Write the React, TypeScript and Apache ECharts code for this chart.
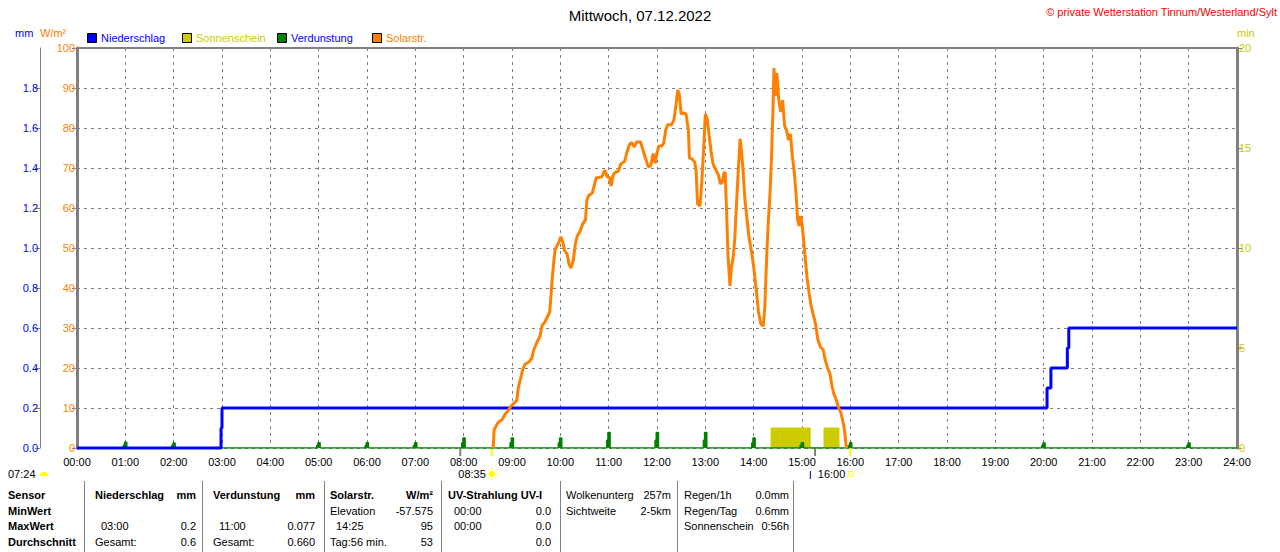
import React, { useEffect, useRef } from 'react';
import * as echarts from 'echarts';

const FONT = '"Liberation Sans", Arial, sans-serif';

const titleText = 'Mittwoch, 07.12.2022';
const copyrightText = '\u00a9 private Wetterstation Tinnum/Westerland/Sylt';

const hourLabels = [
  '00:00', '01:00', '02:00', '03:00', '04:00', '05:00', '06:00', '07:00', '08:00',
  '09:00', '10:00', '11:00', '12:00', '13:00', '14:00', '15:00', '16:00', '17:00',
  '18:00', '19:00', '20:00', '21:00', '22:00', '23:00', '24:00',
];

// Solar radiation (W/m²): [hour, value]
const solarReadings: [number, number][] = [
  [8.61, 0], [8.63, 4.5], [8.67, 5.5], [8.72, 6.5], [8.79, 7], [8.86, 8.5], [8.92, 9.3],
  [8.98, 10.5], [9.05, 11.3], [9.1, 12], [9.13, 15], [9.17, 17], [9.22, 19.5], [9.27, 21],
  [9.35, 21.5], [9.41, 22.5], [9.45, 24.5], [9.52, 26.5], [9.58, 28], [9.62, 30.5],
  [9.68, 31.5], [9.72, 32.5], [9.78, 34], [9.8, 37], [9.83, 42], [9.86, 46], [9.89, 49.5],
  [9.93, 50.5], [9.97, 51.5], [10.01, 52.8], [10.05, 51.5], [10.09, 49.3], [10.14, 48.5],
  [10.18, 46], [10.22, 45], [10.27, 47], [10.31, 51], [10.35, 53], [10.41, 54.2],
  [10.46, 56], [10.52, 57], [10.55, 62], [10.59, 63.2], [10.66, 63.7], [10.7, 65.5],
  [10.74, 67.5], [10.79, 67.6], [10.86, 67.8], [10.92, 69.5], [10.97, 67.8], [11.02, 67.6],
  [11.05, 65.5], [11.09, 68], [11.12, 68.8], [11.2, 69.2], [11.25, 71], [11.33, 71.6],
  [11.38, 74], [11.43, 75.8], [11.47, 76.4], [11.53, 75.3], [11.58, 76.5], [11.66, 76.5],
  [11.71, 74.5], [11.76, 72.5], [11.82, 70.3], [11.87, 70.6], [11.92, 73.6], [11.96, 71.2],
  [12.0, 73.8], [12.04, 75.5], [12.1, 75.5], [12.14, 76.3], [12.18, 79.5], [12.22, 80.8],
  [12.3, 80.8], [12.35, 82], [12.39, 85.5], [12.43, 89.5], [12.46, 88.5], [12.5, 83.5],
  [12.55, 83.8], [12.6, 83.5], [12.65, 79.5], [12.67, 72.5], [12.72, 72.3], [12.78, 71.5],
  [12.81, 69], [12.84, 61], [12.89, 60.5], [12.93, 67], [12.97, 76], [13.0, 83.5],
  [13.04, 82.2], [13.08, 78], [13.12, 74], [13.16, 71], [13.23, 69.2], [13.27, 68.3],
  [13.31, 66], [13.35, 66.5], [13.38, 68.5], [13.41, 69], [13.44, 59], [13.47, 48],
  [13.51, 40.5], [13.54, 45], [13.58, 48], [13.61, 52.5], [13.64, 60], [13.68, 69],
  [13.72, 77.3], [13.75, 74], [13.78, 69.5], [13.82, 62], [13.86, 57.5], [13.9, 53],
  [13.95, 49.5], [14.0, 45.3], [14.05, 40], [14.1, 34], [14.15, 31], [14.2, 30.5],
  [14.23, 35], [14.27, 48], [14.3, 56], [14.34, 64], [14.37, 73], [14.4, 85], [14.42, 95],
  [14.45, 88], [14.48, 93.7], [14.52, 87], [14.56, 84], [14.6, 87], [14.64, 80.5],
  [14.68, 79.5], [14.72, 77], [14.76, 78.5], [14.8, 73], [14.84, 69], [14.88, 63],
  [14.91, 57], [14.94, 55.5], [14.97, 58], [15.01, 55], [15.04, 51], [15.07, 47],
  [15.11, 42], [15.15, 38.5], [15.19, 35.5], [15.24, 33], [15.28, 31], [15.33, 27],
  [15.38, 25.3], [15.44, 24.5], [15.48, 22], [15.53, 20], [15.58, 18.5], [15.62, 15.5],
  [15.66, 13.5], [15.71, 12], [15.75, 10.3], [15.8, 9], [15.84, 7], [15.88, 4.5],
  [15.91, 1], [15.92, 0],
];

// Precipitation, cumulative (mm)
const rainTimes = [0, 2.98, 3.0, 20.07, 20.15, 20.49, 20.52, 24];
const rainValues = [0, 0.1, 0.2, 0.3, 0.4, 0.5, 0.6, 0.6];

// Evaporation (mm) per hour
const evapHours = [1, 2, 5, 6, 7, 8, 9, 10, 11, 12, 13, 14, 15, 16, 20, 23];
const evapValues = [0.029, 0.025, 0.026, 0.026, 0.026, 0.05, 0.05, 0.05, 0.077, 0.077, 0.077, 0.05, 0.026, 0.026, 0.025, 0.025];

// Sunshine periods (min)
const sunStarts = [14.36, 15.455];
const sunEnds = [15.17, 15.765];
const sunMinutes = [1, 1];

// Sun events
const dawnLabel = '07:24';
const sunriseTime = 8.583;
const sunriseLabel = '08:35';
const sunsetTime = 16.0;
const sunsetLabel = '16:00';
const grayMarkTimes = [7.93, 15.27];

const legendItems = [
  { name: 'Niederschlag', box: '#0000ff', text: '#0000ff' },
  { name: 'Sonnenschein', box: '#cccc00', text: '#cccc00' },
  { name: 'Verdunstung', box: '#008000', text: '#0000ff' },
  { name: 'Solarstr.', box: '#ff8000', text: '#ff8000' },
];

const sensorLabels = ['Sensor', 'MinWert', 'MaxWert', 'Durchschnitt'];
const tableColumns: [string, string][][] = [
  [['Niederschlag', 'mm'], ['', ''], [' 03:00', '0.2'], ['Gesamt:', '0.6']],
  [['Verdunstung', 'mm'], ['', ''], [' 11:00', '0.077'], ['Gesamt:', '0.660']],
  [['Solarstr.', 'W/m\u00b2'], ['Elevation', '-57.575'], [' 14:25', '95'], ['Tag:56 min.', '53']],
  [['UV-Strahlung UV-I', ''], [' 00:00', '0.0'], [' 00:00', '0.0'], ['', '0.0']],
  [['Wolkenunterg', '257m'], ['Sichtweite', '2-5km'], ['', ''], ['', '']],
  [['Regen/1h', '0.0mm'], ['Regen/Tag', '0.6mm'], ['Sonnenschein', '0:56h'], ['', '']],
];
const boldHeaderCols = [true, true, true, true, false, false];

export default function App() {
  const ref = useRef<HTMLDivElement>(null);

  useEffect(() => {
    if (!ref.current) return;
    const chart = echarts.init(ref.current, null, { renderer: 'svg' });

    const rainData = rainTimes.map((t, i) => [t, rainValues[i]]);
    const evapData: number[][] = [[0, 0]];
    evapHours.forEach((h, i) => {
      const v = evapValues[i];
      evapData.push([h - 0.04, 0], [h - 0.04, v * 0.5], [h - 0.015, v * 0.5], [h - 0.015, v], [h + 0.03, v], [h + 0.03, 0]);
    });
    evapData.push([24, 0]);
    const sunData: number[][] = [];
    sunStarts.forEach((s, i) => {
      sunData.push([s, 0], [s, sunMinutes[i]], [sunEnds[i], sunMinutes[i]], [sunEnds[i], 0]);
    });

    const gridDash = { color: '#808080', width: 1, type: [3, 4] as number[] };

    chart.setOption({
      animation: false,
      textStyle: { fontFamily: FONT },
      title: {
        text: titleText,
        left: 'center',
        top: 3,
        textStyle: { fontSize: 15, fontWeight: 'normal', color: '#000', fontFamily: FONT },
      },
      grid: { left: 77, right: 43, top: 48, bottom: 104, show: false },
      xAxis: [
        {
          type: 'value', min: 0, max: 24, interval: 1,
          axisLine: { show: false },
          axisTick: { show: false },
          axisLabel: {
            formatter: (v: number) => hourLabels[Math.round(v)],
            color: '#000', fontSize: 11, margin: 8, fontFamily: FONT,
          },
          splitLine: { show: true, lineStyle: gridDash },
        },
        {
          type: 'value', min: 0, max: 24, interval: 1, position: 'top',
          axisLine: { show: true, onZero: false, lineStyle: { color: '#808080', width: 2 } },
          axisTick: { show: false },
          axisLabel: { show: false },
          splitLine: { show: false },
        },
      ],
      yAxis: [
        {
          type: 'value', min: 0, max: 100, interval: 10, position: 'left',
          axisLine: { show: true, onZero: false, lineStyle: { color: '#808080', width: 3 } },
          axisTick: { show: true, length: 5, lineStyle: { color: '#808080' } },
          axisLabel: { color: '#ff8000', fontSize: 11, margin: 2, fontFamily: FONT },
          splitLine: { show: true, lineStyle: gridDash },
        },
        {
          type: 'value', min: 0, max: 2, interval: 0.2, position: 'left', offset: 37,
          axisLine: { show: true, onZero: false, lineStyle: { color: '#808080', width: 1 } },
          axisTick: { show: true, length: 5, lineStyle: { color: '#808080' } },
          axisLabel: {
            color: '#0000ff', fontSize: 11, margin: 2, showMaxLabel: false, fontFamily: FONT,
            formatter: (v: number) => v.toFixed(1),
          },
          splitLine: { show: false },
        },
        {
          type: 'value', min: 0, max: 20, interval: 5, position: 'right',
          axisLine: { show: true, onZero: false, lineStyle: { color: '#808080', width: 3 } },
          axisTick: { show: true, length: 5, lineStyle: { color: '#808080' } },
          axisLabel: { color: '#cccc00', fontSize: 11, margin: 2, fontFamily: FONT },
          splitLine: { show: false },
        },
      ],
      series: [
        {
          name: 'Sonnenschein', type: 'line', xAxisIndex: 0, yAxisIndex: 2, data: sunData,
          showSymbol: false, z: 1,
          lineStyle: { color: '#cccc00', width: 1 },
          areaStyle: { color: '#cccc00', opacity: 1 },
        },
        {
          name: 'Verdunstung', type: 'line', xAxisIndex: 0, yAxisIndex: 1, data: evapData,
          showSymbol: false, z: 2,
          lineStyle: { color: '#008000', width: 1.5 },
          areaStyle: { color: '#008000', opacity: 1 },
        },
        {
          name: 'Niederschlag', type: 'line', xAxisIndex: 0, yAxisIndex: 1, data: rainData,
          step: 'end', showSymbol: false, z: 3, clip: false,
          lineStyle: { color: '#0000ff', width: 3 },
        },
        {
          name: 'Solarstr.', type: 'line', xAxisIndex: 0, yAxisIndex: 0, data: solarReadings,
          showSymbol: false, z: 4,
          lineStyle: { color: '#ff8000', width: 3 },
        },
      ],
    });

    const px = (t: number) => chart.convertToPixel({ xAxisIndex: 0 }, t) as number;
    const baseY = chart.convertToPixel({ yAxisIndex: 0 }, 0) as number;

    const txt = (x: number, y: number, text: string, fill: string, font: string, align = 'left') => ({
      type: 'text', x, y, silent: true,
      style: { text, fill, font, align, textAlign: align, verticalAlign: 'middle', textVerticalAlign: 'middle' },
    });
    const f11 = `11px ${FONT}`;
    const b11 = `bold 11px ${FONT}`;

    const g: any[] = [];
    // copyright
    g.push(txt(1277, 12, copyrightText, '#ff0000', f11, 'right'));
    // axis names
    g.push(txt(15, 33, 'mm', '#0000ff', f11));
    g.push(txt(40, 33, 'W/m\u00b2', '#ff8000', f11));
    g.push(txt(1237, 33, 'min', '#cccc00', f11));
    // legend
    legendItems.forEach((it, i) => {
      const x0 = 87 + 95 * i;
      g.push({ type: 'rect', shape: { x: x0 + 0.5, y: 33.5, width: 9, height: 9 }, style: { fill: it.box, stroke: '#000', lineWidth: 1 } });
      g.push(txt(x0 + 14, 38, it.name, it.text, f11));
    });
    // sun events
    g.push(txt(8, 474, dawnLabel, '#000', f11));
    g.push({ type: 'sector', shape: { cx: 44, cy: 476, r: 4, r0: 0, startAngle: Math.PI, endAngle: Math.PI * 2 }, style: { fill: '#ffff00' } });
    grayMarkTimes.forEach((t) => {
      g.push({ type: 'line', shape: { x1: px(t), y1: baseY, x2: px(t), y2: baseY + 8 }, style: { stroke: '#808080', lineWidth: 2 } });
    });
    [sunriseTime, sunsetTime].forEach((t) => {
      g.push({ type: 'line', shape: { x1: px(t), y1: baseY, x2: px(t), y2: baseY + 8 }, style: { stroke: '#ffff00', lineWidth: 2 } });
    });
    const sx = px(sunriseTime);
    g.push(txt(sx - 6, 474, sunriseLabel, '#000', f11, 'right'));
    g.push({ type: 'circle', shape: { cx: sx, cy: 474, r: 3.2 }, style: { fill: '#ffff00' } });
    for (let k = 0; k < 8; k++) {
      const a = (k * Math.PI) / 4;
      g.push({ type: 'line', shape: { x1: sx + Math.cos(a) * 4.5, y1: 474 + Math.sin(a) * 4.5, x2: sx + Math.cos(a) * 6, y2: 474 + Math.sin(a) * 6 }, style: { stroke: '#ffff00', lineWidth: 1 } });
    }
    const ssx = px(sunsetTime);
    g.push(txt(ssx - 5, 474, sunsetLabel, '#000', f11, 'right'));
    g.push({ type: 'rect', shape: { x: ssx - 1.5, y: 471.5, width: 4, height: 5 }, style: { fill: 'none', stroke: '#ffff00', lineWidth: 1 } });
    g.push({ type: 'line', shape: { x1: ssx - 40, y1: 471, x2: ssx - 40, y2: 479 }, style: { stroke: '#000080', lineWidth: 1 } });

    // table
    const sepX = [84, 202, 324, 441, 560, 677, 793];
    sepX.forEach((x) => {
      g.push({ type: 'line', shape: { x1: x + 0.5, y1: 481, x2: x + 0.5, y2: 552 }, style: { stroke: '#808080', lineWidth: 1 } });
    });
    const rowY = [495, 510.5, 526, 541.5];
    sensorLabels.forEach((s, r) => g.push(txt(8, rowY[r], s, '#000', b11)));
    const colL = [95, 213, 330, 448, 566, 684];
    const colR = [196, 315, 433, 551, 671, 789];
    tableColumns.forEach((col, c) => {
      col.forEach(([l, rt], r) => {
        const font = r === 0 && boldHeaderCols[c] ? b11 : f11;
        if (l) {
          const indent = l.startsWith(' ') ? 6 : 0;
          g.push(txt(colL[c] + indent, rowY[r], l.trim(), '#000', font));
        }
        if (rt) g.push(txt(colR[c], rowY[r], rt, '#000', font, 'right'));
      });
    });

    chart.setOption({ graphic: g });

    return () => chart.dispose();
  }, []);

  return (
    <div
      ref={ref}
      style={{ position: 'fixed', left: 0, top: 0, width: 1280, height: 552, background: '#fff' }}
    />
  );
}
